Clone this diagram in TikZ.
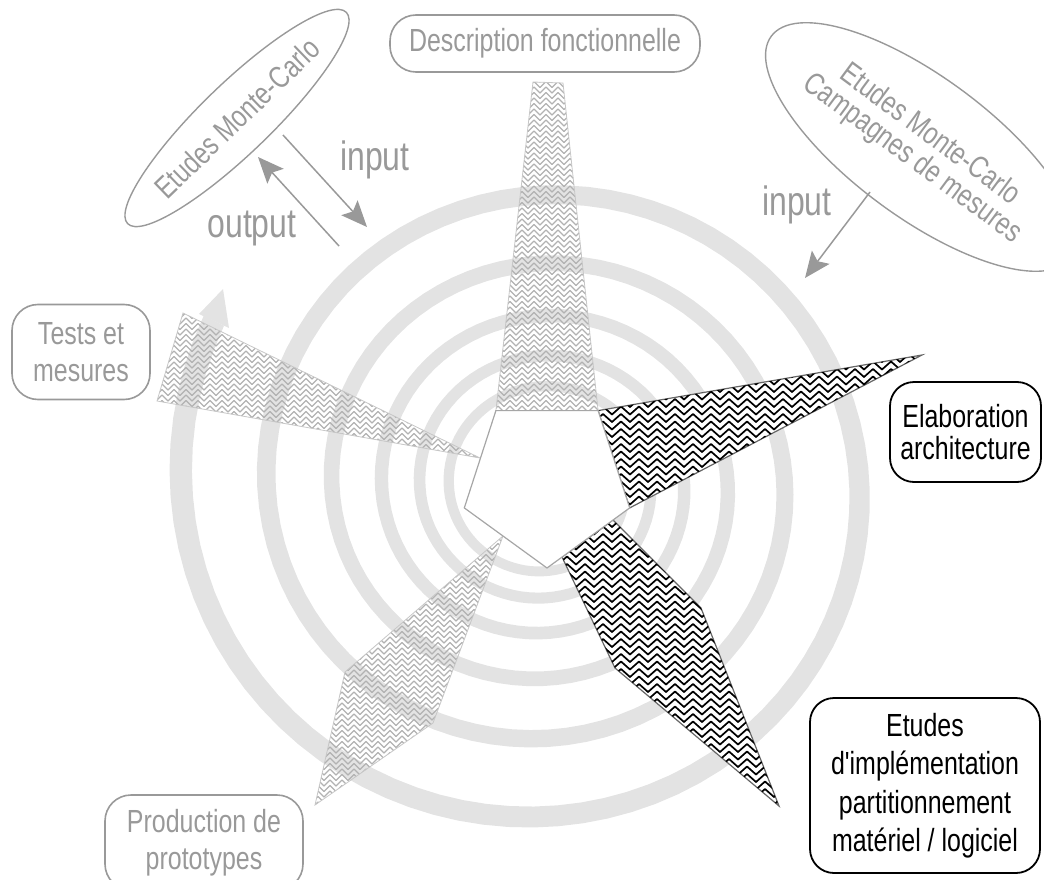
\documentclass[tikz,border=0pt]{standalone}
\usepackage{fontspec}
\setmainfont{Liberation Sans}[FakeStretch=0.78, Ligatures=TeXOff]
\usetikzlibrary{shapes.geometric,arrows.meta,patterns}

\pgfdeclarepatternformonly{zzdark}{\pgfqpoint{-1pt}{-1pt}}{\pgfqpoint{19pt}{10pt}}{\pgfqpoint{18pt}{7.5pt}}{%
  \pgfsetlinewidth{1.7pt}\pgfsetroundjoin\pgfsetroundcap
  \pgfpathmoveto{\pgfqpoint{0pt}{0.5pt}}%
  \pgfpathlineto{\pgfqpoint{9pt}{8.5pt}}%
  \pgfpathlineto{\pgfqpoint{18pt}{0.5pt}}%
  \pgfusepath{stroke}}
\pgfdeclarepatternformonly{zzlight}{\pgfqpoint{-1pt}{-1pt}}{\pgfqpoint{13pt}{8pt}}{\pgfqpoint{12pt}{5.5pt}}{%
  \pgfsetlinewidth{1.3pt}\pgfsetroundjoin\pgfsetroundcap
  \pgfpathmoveto{\pgfqpoint{0pt}{0.5pt}}%
  \pgfpathlineto{\pgfqpoint{6pt}{6.5pt}}%
  \pgfpathlineto{\pgfqpoint{12pt}{0.5pt}}%
  \pgfusepath{stroke}}

\definecolor{spiralc}{gray}{0.89}
\definecolor{lbl}{gray}{0.6}

\begin{document}
\begin{tikzpicture}[x=1pt,y=-1pt,
  graybox/.style={draw=lbl, line width=1.6pt, rounded corners=26pt, text=lbl, align=center, inner sep=0pt, font=\fontsize{32}{37.5}\selectfont},
  blackbox/.style={draw=black, line width=1.8pt, rounded corners=24pt, text=black, align=center, inner sep=0pt, font=\fontsize{32}{38.5}\selectfont},
  grayell/.style={ellipse, draw=lbl, line width=1.4pt, text=lbl, align=center, inner sep=0pt, font=\fontsize{31}{30}\selectfont},
  iolbl/.style={text=lbl, anchor=base, inner sep=0pt, font=\fontsize{41}{40}\selectfont},
  flow/.style={draw=lbl, line width=1.5pt, -{Stealth[length=26pt,width=22pt,inset=5pt]}},
  lightarm/.style={pattern=zzlight, pattern color=black!30, draw=black!22, line width=0.8pt},
  darkarm/.style={fill=white, postaction={pattern=zzdark, pattern color=black}, draw=black!60, line width=1.2pt},
  penta/.style={fill=white, draw=black!35, line width=1.2pt}
]
\useasboundingbox (0,0) rectangle (1044,880);

% spiral
\fill[spiralc] plot[domain=-1760:297, samples=500, variable=\t]
  ({543+1.02*(1.0225*290*exp(0.000744*\t)+3)*sin(\t)}, {485-(1.0225*290*exp(0.000744*\t)+3)*cos(\t)})
  -- plot[domain=297:-1760, samples=500, variable=\t]
  ({543+1.02*(0.9775*290*exp(0.000744*\t)-3)*sin(\t)}, {485-(0.9775*290*exp(0.000744*\t)-3)*cos(\t)}) -- cycle;
\fill[spiralc] (199,314) -- (223,289) -- (229,328) -- cycle;

% light arms
\draw[lightarm] (533,82) -- (563,83) -- (598.1,410.6) -- (495.9,410.6) -- cycle;
\draw[lightarm] (183,313) -- (480,458) -- (157,401) -- cycle;
\draw[lightarm] (503,536) -- (433,723) -- (315,805) -- (345,672) -- cycle;

% dark arms
\draw[darkarm] (598.1,410.6) -- (922,355) -- (629.7,507.9) -- cycle;
\draw[darkarm] (613,520) -- (701,608) -- (779,806) -- (615,668) -- (562,557) -- cycle;

% pentagon
\draw[penta] (495.9,410.6) -- (598.1,410.6) -- (629.7,507.9) -- (547,568) -- (464.3,507.9) -- cycle;

% labels
\node[graybox, minimum width=310pt, minimum height=57pt] (desc) at (545,43.5) {Description fonctionnelle};
\node[graybox, minimum width=138pt, minimum height=95pt] (tests) at (81,352) {Tests et\\mesures};
\node[graybox, minimum width=198pt, minimum height=95pt] (prod) at (204,842.5) {Production de\\prototypes};
\node[blackbox, minimum width=151pt, minimum height=100pt, font=\fontsize{32}{32}\selectfont] (elab) at (965.5,432) {Elaboration\\architecture};
\node[blackbox, minimum width=230pt, minimum height=175pt] (etudes) at (925,785.5) {Etudes\\d'implémentation\\partitionnement\\matériel / logiciel};

\node[grayell, rotate=44, minimum width=248pt, minimum height=70pt] (mc1) at (237,118) {Etudes Monte-Carlo};
\node[grayell, rotate=-36.5, minimum width=300pt, minimum height=140pt] (mc2) at (921,147) {Etudes Monte-Carlo\\Campagnes de mesures};

\node[iolbl] (in1) at (375,170) {input};
\node[iolbl] (out1) at (252,237) {output};
\node[iolbl] (in2) at (797,215) {input};

% flows
\coordinate (a1s) at (283,135); \coordinate (a1e) at (367,227);
\coordinate (a2s) at (339,246); \coordinate (a2e) at (258,157);
\coordinate (a3s) at (870,192); \coordinate (a3e) at (805,278);
\draw[flow] (a1s) -- (a1e);
\draw[flow] (a2s) -- (a2e);
\draw[flow] (a3s) -- (a3e);
\end{tikzpicture}
\end{document}
